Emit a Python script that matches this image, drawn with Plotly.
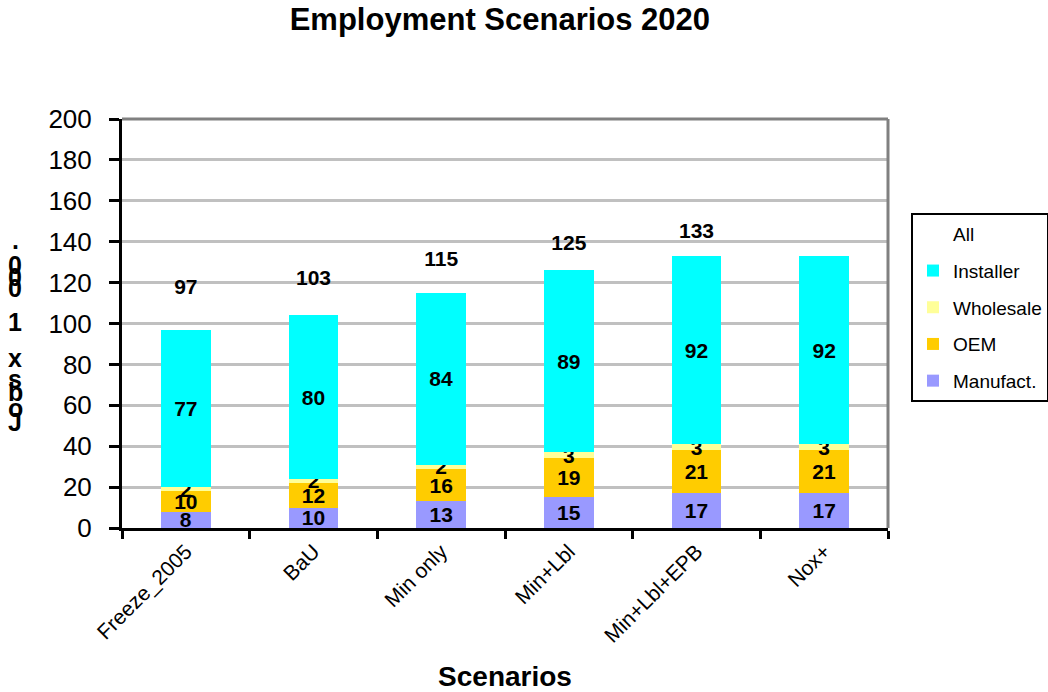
import plotly.graph_objects as go

# Employment by segment per scenario (thousands of jobs)
scenarios = ["Freeze_2005", "BaU", "Min only", "Min+Lbl", "Min+Lbl+EPB", "Nox+"]
manufact = [8, 10, 13, 15, 17, 17]
oem = [10, 12, 16, 19, 21, 21]
wholesale = [2, 2, 2, 3, 3, 3]
installer = [77, 80, 84, 89, 92, 92]
all_jobs = [97, 103, 115, 125, 133, None]

series = [
    ("Manufact.", manufact, "#9999FF", 5),
    ("OEM", oem, "#FFCC00", 4),
    ("Wholesale", wholesale, "#FFFF99", 3),
    ("Installer", installer, "#00FFFF", 2),
]

FONT = "Liberation Sans, Arial, sans-serif"
LABEL_FONT = dict(family=FONT, size=21, color="black", weight="bold")

fig = go.Figure()
for name, vals, color, rank in series:
    fig.add_trace(go.Bar(
        name=name, x=scenarios, y=vals,
        marker=dict(color=color, line=dict(width=0)),
        text=[str(v) for v in vals], textposition="inside",
        insidetextanchor="middle", constraintext="none",
        textfont=LABEL_FONT, textangle=0, cliponaxis=False,
        legendgroup=name, legendrank=rank,
    ))

# Totals drawn as a text-only series on a hidden secondary axis
fig.add_trace(go.Scatter(
    name="All", x=scenarios, y=all_jobs, yaxis="y2",
    mode="markers+text", marker=dict(color="rgba(0,0,0,0)", size=1),
    text=[str(v) if v is not None else "" for v in all_jobs],
    textposition="middle center", textfont=LABEL_FONT,
    legendgroup="All", legendrank=1, cliponaxis=False,
))

fig.update_layout(
    width=1048, height=692,
    margin=dict(l=122, r=160, t=119, b=164, autoexpand=False),
    paper_bgcolor="white", plot_bgcolor="white",
    barmode="stack", bargap=0.61,
    font=dict(family=FONT, color="black"),
    title=dict(text="<b>Employment Scenarios 2020</b>", x=0.477, xanchor="center",
               y=0.972, yanchor="middle",
               font=dict(family=FONT, size=31, color="black")),
    xaxis=dict(
        title=dict(text="<b>Scenarios</b>", font=dict(family=FONT, size=28), standoff=26),
        tickangle=-45, tickfont=dict(family=FONT, size=21),
        showline=True, linecolor="black", linewidth=3,
        ticks="outside", tickson="boundaries", ticklen=8, tickwidth=3, tickcolor="black",
        showgrid=False, mirror=False,
    ),
    yaxis=dict(
        range=[0, 200], dtick=20, tickfont=dict(family=FONT, size=26),
        ticklabelstandoff=12,
        showline=True, linecolor="black", linewidth=3,
        ticks="outside", ticklen=10, tickwidth=3, tickcolor="black",
        showgrid=True, gridcolor="#C0C0C0", gridwidth=3,
        zeroline=False,
    ),
    yaxis2=dict(overlaying="y", range=[-55, 205], visible=False),
    legend=dict(
        xref="container", yref="container",
        x=911 / 1048, y=1 - 213 / 692, xanchor="left", yanchor="top",
        traceorder="grouped", tracegroupgap=9,
        bordercolor="black", borderwidth=2, bgcolor="white",
        font=dict(family=FONT, size=19, color="black"),
        itemwidth=30,
    ),
    showlegend=True,
)

# Plot-area frame on the top and right edges
fig.add_shape(type="line", xref="paper", yref="paper", x0=0, x1=1, y0=1, y1=1,
              line=dict(color="#808080", width=3), layer="above")
fig.add_shape(type="line", xref="paper", yref="paper", x0=1, x1=1, y0=0, y1=1,
              line=dict(color="#808080", width=3), layer="above")

# Vertical axis title with stacked characters
y_label_chars = ["J", "o", "b", "s", "x", "1", "0", "0", "0", "."]
y_label_px = [422, 408, 392, 379, 358, 322, 288, 277, 265, 240]
plot_top, plot_h = 119, 409
for ch, py in zip(y_label_chars, y_label_px):
    fig.add_annotation(
        text=f"<b>{ch}</b>", xref="paper", yref="paper",
        x=-(122 - 15) / 766, y=(plot_top + plot_h - py) / plot_h,
        xanchor="center", yanchor="middle", showarrow=False,
        font=dict(family=FONT, size=25, color="black"),
    )

fig.write_html("out.html")
